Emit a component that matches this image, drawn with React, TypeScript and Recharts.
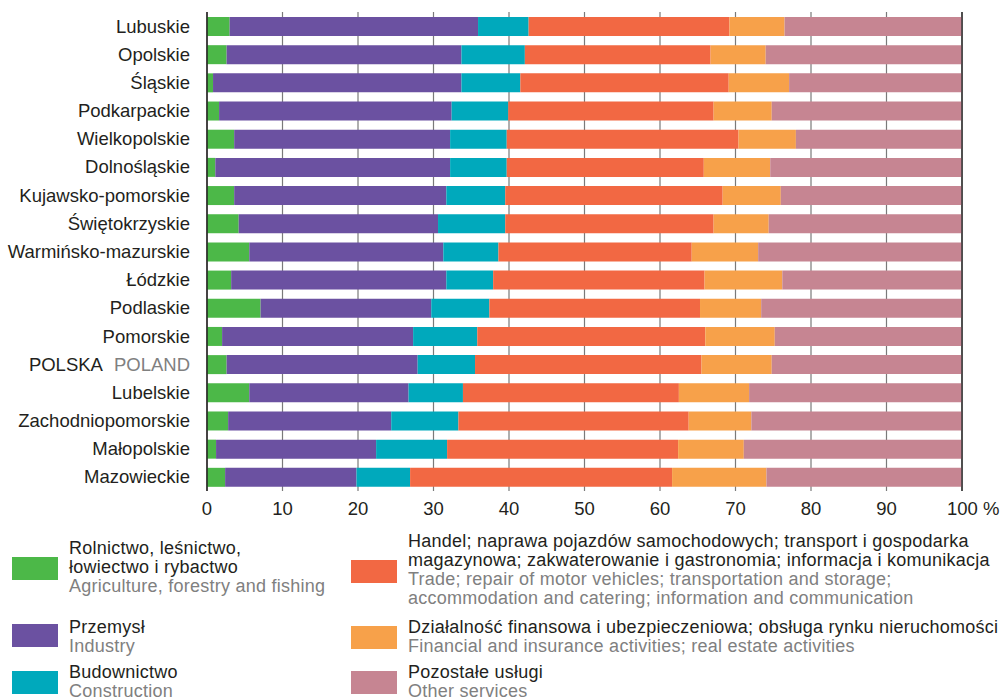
import { Bar, BarChart, CartesianGrid, ReferenceLine, XAxis, YAxis } from 'recharts';

// Regions, top to bottom as drawn
const regions = [
  'Lubuskie',
  'Opolskie',
  'Śląskie',
  'Podkarpackie',
  'Wielkopolskie',
  'Dolnośląskie',
  'Kujawsko-pomorskie',
  'Świętokrzyskie',
  'Warmińsko-mazurskie',
  'Łódzkie',
  'Podlaskie',
  'Pomorskie',
  'POLSKA',
  'Lubelskie',
  'Zachodniopomorskie',
  'Małopolskie',
  'Mazowieckie',
];

// Shares in %, one value per region (same order as above)
const agriculture = [3.0, 2.6, 0.8, 1.6, 3.6, 1.1, 3.6, 4.2, 5.6, 3.2, 7.1, 2.0, 2.6, 5.6, 2.8, 1.2, 2.4];
const industry = [32.9, 31.1, 32.9, 30.8, 28.6, 31.1, 28.1, 26.4, 25.7, 28.5, 22.6, 25.3, 25.3, 21.1, 21.6, 21.2, 17.4];
const construction = [6.7, 8.4, 7.8, 7.5, 7.5, 7.5, 7.8, 8.9, 7.3, 6.2, 7.7, 8.5, 7.6, 7.2, 8.9, 9.4, 7.1];
const trade = [26.6, 24.6, 27.6, 27.2, 30.7, 26.1, 28.8, 27.6, 25.6, 28.0, 27.9, 30.2, 30.0, 28.6, 30.5, 30.6, 34.7];
const finance = [7.3, 7.3, 8.0, 7.7, 7.6, 8.8, 7.7, 7.3, 8.8, 10.3, 8.1, 9.2, 9.3, 9.3, 8.3, 8.7, 12.5];
const otherServices = [23.5, 26.0, 22.9, 25.2, 22.0, 25.4, 24.0, 25.6, 27.0, 23.8, 26.6, 24.8, 25.2, 28.2, 27.9, 28.9, 25.9];

const xTicks = [0, 10, 20, 30, 40, 50, 60, 70, 80, 90, 100];

const TEXT = '#231f20';
const GRAY = '#808080';
const FONT = '"Liberation Sans", Arial, Helvetica, sans-serif';

const series = [
  { key: 'agriculture', color: '#4cb848' },
  { key: 'industry', color: '#6b51a1' },
  { key: 'construction', color: '#00a9bc' },
  { key: 'trade', color: '#f26843' },
  { key: 'finance', color: '#f7a14a' },
  { key: 'other', color: '#c68592' },
];

const legendItems = [
  { color: '#4cb848', left: 12, top: 539, swatchTop: 557, pl: ['Rolnictwo, leśnictwo,', 'łowiectwo i rybactwo'], en: ['Agriculture, forestry and fishing'] },
  { color: '#6b51a1', left: 12, top: 618, swatchTop: 624, pl: ['Przemysł'], en: ['Industry'] },
  { color: '#00a9bc', left: 12, top: 663, swatchTop: 671, pl: ['Budownictwo'], en: ['Construction'] },
  {
    color: '#f26843',
    left: 351,
    top: 532,
    swatchTop: 560,
    pl: ['Handel; naprawa pojazdów samochodowych; transport i gospodarka', 'magazynowa; zakwaterowanie i gastronomia; informacja i komunikacja'],
    en: ['Trade; repair of motor vehicles; transportation and storage;', 'accommodation and catering; information and communication'],
  },
  { color: '#f7a14a', left: 351, top: 618, swatchTop: 626, pl: ['Działalność finansowa i ubezpieczeniowa; obsługa rynku nieruchomości'], en: ['Financial and insurance activities; real estate activities'] },
  { color: '#c68592', left: 351, top: 663, swatchTop: 671, pl: ['Pozostałe usługi'], en: ['Other services'] },
];

const data = regions.map((name, i) => ({
  name,
  agriculture: agriculture[i],
  industry: industry[i],
  construction: construction[i],
  trade: trade[i],
  finance: finance[i],
  other: otherServices[i],
}));

function RegionTick(props: any) {
  const { x, y, payload } = props;
  if (payload.value === 'POLSKA') {
    return (
      <text x={x - 9} y={y + 6.5} textAnchor="end" fontSize={18.5} fontFamily={FONT} fill={TEXT}>
        <tspan>POLSKA</tspan>
        <tspan dx={11} fill={GRAY}>POLAND</tspan>
      </text>
    );
  }
  return (
    <text x={x - 9} y={y + 6.5} textAnchor="end" fontSize={18.5} fontFamily={FONT} fill={TEXT}>
      {payload.value}
    </text>
  );
}

function PercentTick(props: any) {
  const { x, y, payload } = props;
  if (payload.value === 100) {
    return (
      <text x={x - 15} y={y + 16} textAnchor="start" fontSize={18.5} fontFamily={FONT} fill={TEXT}>
        100 %
      </text>
    );
  }
  return (
    <text x={x} y={y + 16} textAnchor="middle" fontSize={18.5} fontFamily={FONT} fill={TEXT}>
      {payload.value}
    </text>
  );
}

export default function App() {
  return (
    <div style={{ position: 'absolute', left: 0, top: 0, width: 1007, height: 700, background: '#fff', fontFamily: FONT }}>
      <BarChart
        width={1007}
        height={530}
        data={data}
        layout="vertical"
        margin={{ top: 12, right: 45, bottom: 0, left: 0 }}
        barSize={19}
      >
        <CartesianGrid horizontal={false} stroke="#7a7a7a" strokeWidth={1.2} />
        <XAxis
          type="number"
          domain={[0, 100]}
          ticks={xTicks}
          axisLine={false}
          tickLine={false}
          height={39}
          tick={<PercentTick />}
          interval={0}
        />
        <YAxis
          type="category"
          dataKey="name"
          width={207}
          tickLine={false}
          axisLine={{ stroke: TEXT, strokeWidth: 1.5 }}
          tick={<RegionTick />}
          interval={0}
        />
        {series.map((s) => (
          <Bar key={s.key} dataKey={s.key} stackId="a" fill={s.color} isAnimationActive={false} />
        ))}
        <ReferenceLine x={100} stroke="#3a3a3a" strokeWidth={1.5} />
      </BarChart>

      {legendItems.map((item, i) => (
        <div key={i}>
          <div
            style={{
              position: 'absolute',
              left: item.left,
              top: item.swatchTop,
              width: 46,
              height: 23,
              background: item.color,
            }}
          />
          <div
            style={{
              position: 'absolute',
              left: item.left + 57,
              top: item.top,
              fontSize: 18,
              lineHeight: '19px',
              letterSpacing: 0.25,
              whiteSpace: 'nowrap',
            }}
          >
            {item.pl.map((line) => (
              <div key={line} style={{ color: TEXT }}>{line}</div>
            ))}
            {item.en.map((line) => (
              <div key={line} style={{ color: GRAY }}>{line}</div>
            ))}
          </div>
        </div>
      ))}
    </div>
  );
}
